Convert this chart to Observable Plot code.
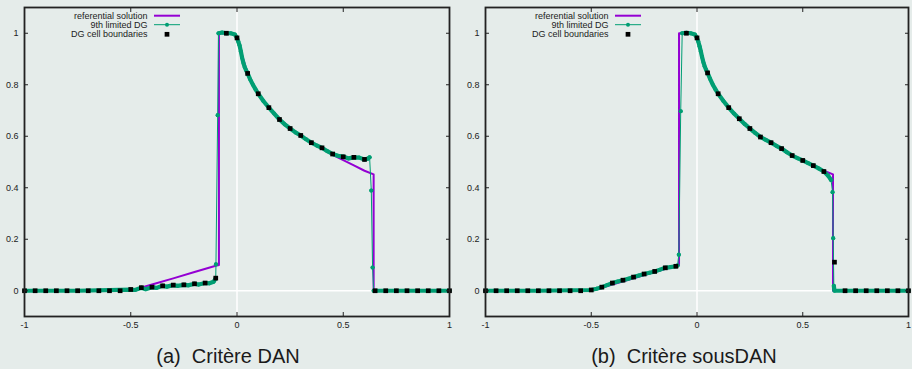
<!DOCTYPE html>
<html><head><meta charset="utf-8">
<script src="https://cdn.jsdelivr.net/npm/d3@7"></script>
<script src="https://cdn.jsdelivr.net/npm/@observablehq/plot@0.6"></script>
<style>
html,body{margin:0;padding:0;background:#e5ecea;}
#wrap{position:relative;width:912px;height:369px;background:#e5ecea;overflow:hidden;font-family:"Liberation Sans",Arial,sans-serif;}
.panel{position:absolute;top:0;width:456px;height:369px;}
.panel svg{position:absolute;left:0;top:0;}
.cap{position:absolute;left:0;top:346px;width:456px;text-align:center;font-size:20px;line-height:20px;color:#1a1a1a;white-space:pre;}
</style></head><body>
<div id="wrap">
  <div class="panel" id="pa" style="left:0"></div>
  <div class="panel" id="pb" style="left:456px"></div>
</div>
<script>
// ---------- data ----------
const captions = ["(a)  Critère DAN", "(b)  Critère sousDAN"];
const legendLabels = ["referential solution", "9th limited DG", "DG cell boundaries"];
const xTicks = [-1, -0.5, 0, 0.5, 1];
const yTicks = [0, 0.2, 0.4, 0.6, 0.8, 1];

// referential solution (same in both panels)
const refX = [-1, -0.5, -0.4, -0.3, -0.2, -0.1, -0.085, -0.085, -0.06, -0.04, -0.02, -0.01, 0, 0.01, 0.02, 0.03, 0.04, 0.05, 0.075, 0.1, 0.125, 0.15, 0.2, 0.25, 0.3, 0.35, 0.4, 0.45, 0.5, 0.55, 0.6, 0.643, 0.643, 1];
const refY = [0, 0, 0.024, 0.048, 0.073, 0.097, 0.1, 1.0, 1.0, 1.0, 0.998, 0.994, 0.982, 0.955, 0.925, 0.898, 0.87, 0.846, 0.8, 0.765, 0.736, 0.711, 0.667, 0.63, 0.6, 0.575, 0.552, 0.528, 0.507, 0.487, 0.466, 0.452, 0, 0];

// DG cell boundaries (x positions)
const cellX = [-1, -0.95, -0.9, -0.85, -0.8, -0.75, -0.7, -0.65, -0.6, -0.55, -0.5, -0.45, -0.4, -0.35, -0.3, -0.25, -0.2, -0.15, -0.1, -0.05, 0, 0.05, 0.1, 0.15, 0.2, 0.25, 0.3, 0.35, 0.4, 0.45, 0.5, 0.55, 0.6, 0.65, 0.7, 0.75, 0.8, 0.85, 0.9, 0.95, 1];

// panel (a) Critère DAN
const cellY_a = [0, 0, 0, 0, 0, 0, 0, 0, 0, 0, 0.005, 0.012, 0.014, 0.019, 0.022, 0.023, 0.027, 0.03, 0.049, 1.0, 0.982, 0.844, 0.765, 0.711, 0.665, 0.63, 0.603, 0.575, 0.555, 0.531, 0.52, 0.518, 0.51, 0, 0, 0, 0, 0, 0, 0, 0];
const dgX_a = [-1, -0.75, -0.5, -0.48, -0.45, -0.43, -0.4, -0.38, -0.35, -0.33, -0.3, -0.28, -0.25, -0.23, -0.2, -0.18, -0.15, -0.13, -0.11, -0.1, -0.099, -0.091, -0.087, -0.07, -0.05, -0.03, -0.01, 0, 0.006, 0.012, 0.018, 0.024, 0.03, 0.036, 0.043, 0.05, 0.0625, 0.075, 0.0875, 0.1, 0.125, 0.15, 0.175, 0.2, 0.225, 0.25, 0.275, 0.3, 0.325, 0.35, 0.375, 0.4, 0.425, 0.45, 0.475, 0.5, 0.525, 0.55, 0.575, 0.6, 0.615, 0.624, 0.632, 0.638, 0.643, 0.75, 1];
const dgY_a = [0, 0, 0.004, 0.003, 0.012, 0.006, 0.014, 0.011, 0.019, 0.016, 0.022, 0.019, 0.023, 0.021, 0.027, 0.024, 0.03, 0.029, 0.035, 0.049, 0.103, 0.682, 1.0, 1.003, 1.0, 1.0, 0.995, 0.982, 0.968, 0.953, 0.93, 0.905, 0.885, 0.869, 0.856, 0.844, 0.82, 0.8, 0.782, 0.765, 0.736, 0.711, 0.688, 0.665, 0.646, 0.63, 0.615, 0.603, 0.588, 0.575, 0.564, 0.555, 0.542, 0.531, 0.524, 0.521, 0.514, 0.518, 0.517, 0.51, 0.513, 0.518, 0.389, 0.09, 0, 0, 0];

// panel (b) Critère sousDAN
const cellY_b = [0, 0, 0, 0, 0, 0, 0, 0, 0, 0, 0.003, 0.014, 0.03, 0.041, 0.053, 0.065, 0.075, 0.089, 0.095, 1.0, 0.982, 0.846, 0.765, 0.711, 0.668, 0.63, 0.597, 0.575, 0.552, 0.525, 0.506, 0.486, 0.463, 0.111, 0, 0, 0, 0, 0, 0, 0];
const dgX_b = [-1, -0.75, -0.5, -0.475, -0.45, -0.425, -0.4, -0.375, -0.35, -0.325, -0.3, -0.275, -0.25, -0.225, -0.2, -0.175, -0.15, -0.125, -0.1, -0.092, -0.086, -0.077, -0.07, -0.05, -0.03, -0.01, 0, 0.006, 0.012, 0.018, 0.024, 0.03, 0.036, 0.043, 0.05, 0.0625, 0.075, 0.0875, 0.1, 0.125, 0.15, 0.175, 0.2, 0.225, 0.25, 0.275, 0.3, 0.325, 0.35, 0.375, 0.4, 0.425, 0.45, 0.475, 0.5, 0.525, 0.55, 0.575, 0.6, 0.62, 0.634, 0.641, 0.644, 0.647, 0.65, 0.75, 1];
const dgY_b = [0, 0, 0.003, 0.008, 0.014, 0.022, 0.03, 0.036, 0.041, 0.047, 0.053, 0.059, 0.065, 0.07, 0.075, 0.082, 0.089, 0.092, 0.095, 0.098, 0.14, 0.697, 1.0, 1.002, 1.0, 0.995, 0.982, 0.968, 0.95, 0.93, 0.908, 0.888, 0.872, 0.858, 0.846, 0.822, 0.8, 0.782, 0.765, 0.737, 0.711, 0.688, 0.668, 0.648, 0.63, 0.613, 0.597, 0.586, 0.575, 0.563, 0.552, 0.538, 0.525, 0.515, 0.506, 0.496, 0.486, 0.475, 0.463, 0.447, 0.43, 0.383, 0.204, 0.019, 0, 0, 0];

// ---------- styles ----------
const PURPLE = "#9400d3", GREEN = "#009e73", INK = "#222";
const FONT = "Liberation Sans, Arial, sans-serif";

function legendMark(index, scales, values, dims) {
  const g = d3.create("svg:g").attr("font-family", FONT).attr("font-size", 9).attr("fill", INK);
  const x0 = dims.marginLeft, y0 = dims.marginTop;
  const rows = [8.7, 17.7, 27.3];
  const tx = x0 + 123.5, l1 = x0 + 130, l2 = x0 + 156, mx = x0 + 143;
  rows.forEach((ry, i) => {
    g.append("text").attr("x", tx).attr("y", y0 + ry).attr("dy", "0.35em")
      .attr("text-anchor", "end").text(legendLabels[i]);
  });
  g.append("line").attr("x1", l1).attr("x2", l2).attr("y1", y0 + rows[0]).attr("y2", y0 + rows[0])
    .attr("stroke", PURPLE).attr("stroke-width", 2);
  g.append("line").attr("x1", l1).attr("x2", l2).attr("y1", y0 + rows[1]).attr("y2", y0 + rows[1])
    .attr("stroke", GREEN).attr("stroke-width", 1);
  g.append("circle").attr("cx", mx).attr("cy", y0 + rows[1]).attr("r", 2).attr("fill", GREEN);
  g.append("rect").attr("x", mx - 2.35).attr("y", y0 + rows[2] - 2.35).attr("width", 4.7).attr("height", 4.7).attr("fill", "#000");
  return g.node();
}

function panel(el, dgX, dgY, cellY, caption, ml, mr) {
  const ref = refX.map((x, i) => ({x, y: refY[i]}));
  const dg = dgX.map((x, i) => ({x, y: dgY[i]}));
  const cells = cellX.map((x, i) => ({x, y: cellY[i]}));
  // thick band where DG points are dense (no large jump between neighbours)
  const band = [];
  dg.forEach((d, i) => {
    band.push(d);
    if (i < dg.length - 1 && Math.abs(dg[i + 1].y - d.y) > 0.04) band.push({x: NaN, y: NaN});
  });
  const fmt = d => String(d);
  const chart = Plot.plot({
    width: 456, height: 335,
    marginLeft: ml, marginRight: mr, marginTop: 7, marginBottom: 19,
    style: {background: "transparent", fontFamily: FONT, fontSize: "9px", color: INK},
    x: {domain: [-1, 1]},
    y: {domain: [-0.1, 1.1]},
    marks: [
      Plot.ruleY([0], {stroke: "white", strokeWidth: 1.5}),
      Plot.ruleX([0], {stroke: "white", strokeWidth: 1.5}),
      Plot.line(ref, {x: "x", y: "y", stroke: PURPLE, strokeWidth: 2}),
      Plot.line(band, {x: "x", y: "y", stroke: GREEN, strokeWidth: 4.2, strokeLinecap: "round", strokeLinejoin: "round"}),
      Plot.line(dg, {x: "x", y: "y", stroke: GREEN, strokeWidth: 1}),
      Plot.dot(dg, {x: "x", y: "y", r: 2, fill: GREEN, stroke: null}),
      Plot.dot(cells, {x: "x", y: "y", symbol: "square", r: 2.65, fill: "#000", stroke: null}),
      Plot.axisX({anchor: "bottom", ticks: xTicks, tickSize: 0, tickPadding: 5, tickFormat: fmt, label: null}),
      Plot.axisY({anchor: "left", ticks: yTicks, tickSize: 0, tickPadding: 6, tickFormat: fmt, label: null}),
      Plot.axisX({anchor: "bottom", ticks: xTicks, tickSize: -4, tickFormat: () => "", label: null, stroke: INK}),
      Plot.axisX({anchor: "top", ticks: xTicks, tickSize: -4, tickFormat: () => "", label: null, stroke: INK}),
      Plot.axisY({anchor: "left", ticks: yTicks, tickSize: -4, tickFormat: () => "", label: null, stroke: INK}),
      Plot.axisY({anchor: "right", ticks: yTicks, tickSize: -4, tickFormat: () => "", label: null, stroke: INK}),
      Plot.frame({stroke: INK, strokeWidth: 1.8}),
      legendMark
    ]
  });
  el.appendChild(chart);
  const cap = document.createElement("div");
  cap.className = "cap";
  cap.textContent = caption;
  el.appendChild(cap);
}

panel(document.getElementById("pa"), dgX_a, dgY_a, cellY_a, captions[0], 24, 7);
panel(document.getElementById("pb"), dgX_b, dgY_b, cellY_b, captions[1], 29, 4);
</script>
</body></html>
